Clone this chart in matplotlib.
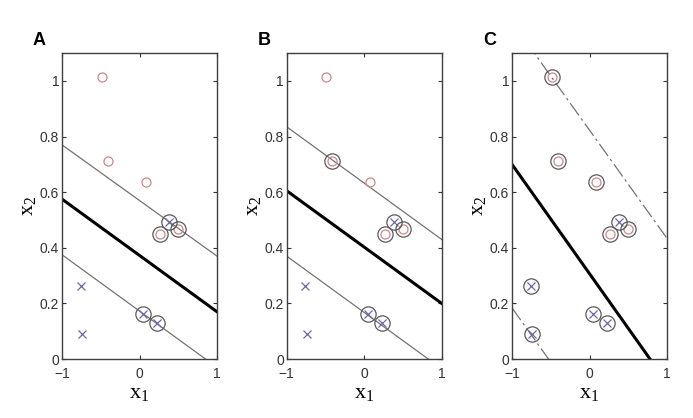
#!/usr/bin/env python3
"""
Three panels of a linear classifier with margins (A, B, C).
"""
import numpy as np
import matplotlib.pyplot as plt

# class "o" points (x1, x2)
circ_x1 = [-0.49, -0.41, 0.08, 0.27, 0.50]
circ_x2 = [1.015, 0.713, 0.637, 0.448, 0.466]
# class "x" points
cross_x1 = [-0.76, -0.74, 0.05, 0.23, 0.38]
cross_x2 = [0.263, 0.089, 0.162, 0.128, 0.494]

panels = ['A', 'B', 'C']
# support vectors per panel: indices into circle / cross lists
sv_circ = [[3, 4], [1, 3, 4], [0, 1, 2, 3, 4]]
sv_cross = [[2, 3, 4], [2, 3, 4], [0, 1, 2, 3, 4]]
# lines given as (x2 at x1=-1, x2 at x1=1)
boundary = [(0.575, 0.17), (0.605, 0.20), (0.70, -0.086)]
margin_up = [(0.77, 0.37), (0.835, 0.43), (1.212, 0.434)]
margin_lo = [(0.375, -0.03), (0.37, -0.035), (0.184, -0.596)]
margin_style = ['-', '-', (0, (12, 3, 2, 3))]

plt.rcParams['font.family'] = ['Liberation Sans', 'DejaVu Sans']
fig = plt.figure(figsize=(6.93, 4.18), dpi=100)
lefts = [0.0895, 0.4137, 0.7388]

for i, name in enumerate(panels):
    ax = fig.add_axes([lefts[i], 0.141, 0.2237, 0.732])
    xs = np.array([-1, 1])

    ax.plot(xs, margin_up[i], color='0.45', lw=0.9, ls=margin_style[i])
    ax.plot(xs, margin_lo[i], color='0.45', lw=0.9, ls=margin_style[i])
    ax.plot(xs, boundary[i], color='black', lw=2.2)

    ax.plot(circ_x1, circ_x2, 'o', mfc='none', mec='#c98a8a', ms=6.5, mew=0.9)
    ax.plot(cross_x1, cross_x2, 'x', color='#6a6aa8', ms=5.5, mew=0.9)

    # rings around support vectors
    sx = [circ_x1[k] for k in sv_circ[i]] + [cross_x1[k] for k in sv_cross[i]]
    sy = [circ_x2[k] for k in sv_circ[i]] + [cross_x2[k] for k in sv_cross[i]]
    ax.plot(sx, sy, 'o', mfc='none', mec='0.35', ms=11, mew=0.9)

    ax.set_xlim(-1, 1)
    ax.set_ylim(0, 1.1)
    ax.set_xticks([-1, 0, 1])
    ax.set_xticklabels(['\u22121', '0', '1'])
    ax.set_yticks([0, 0.2, 0.4, 0.6, 0.8, 1])
    ax.set_yticklabels(['0', '0.2', '0.4', '0.6', '0.8', '1'])
    ax.tick_params(direction='in', top=True, right=True, labelsize=10,
                   length=3, width=0.8, colors='0.2', pad=2)
    ax.tick_params(axis='x', pad=6)
    for s in ax.spines.values():
        s.set_color('0.25')
        s.set_linewidth(1.0)

    ax.set_xlabel(r'$\mathregular{x_1}$', family='Liberation Serif',
                  fontsize=16, labelpad=2)
    ax.set_ylabel(r'$\mathregular{x_2}$', family='Liberation Serif',
                  fontsize=16, labelpad=1)
    ax.text(-0.145, 1.042, name, transform=ax.transAxes, fontsize=13,
            fontweight='bold', ha='center', va='center')

plt.savefig('out.png', dpi=100)
